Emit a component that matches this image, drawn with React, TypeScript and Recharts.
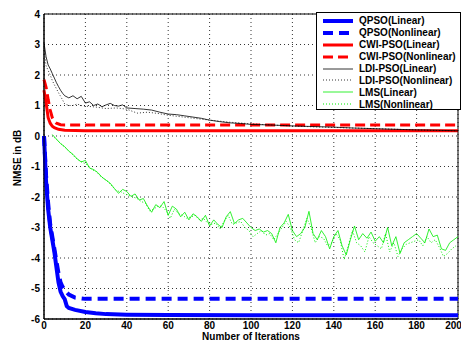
import { LineChart, Line, XAxis, YAxis, CartesianGrid, Legend, ReferenceArea } from 'recharts'

const xTicks = [0, 20, 40, 60, 80, 100, 120, 140, 160, 180, 200]
const yTicks = [-6, -5, -4, -3, -2, -1, 0, 1, 2, 3, 4]

const qpsoLinIter = [0, 1, 2, 3, 4, 5, 6, 7, 8, 9, 10, 11, 12, 15, 20, 25, 30, 40, 60, 100, 200]
const qpsoLinNmse = [0, -1.5, -2.4, -3.0, -3.4, -3.8, -4.3, -4.8, -5.1, -5.25, -5.35, -5.58, -5.64, -5.7, -5.77, -5.81, -5.84, -5.86, -5.87, -5.88, -5.88]

const qpsoNonIter = [0, 1, 2, 3, 4, 5, 6, 7, 8, 9, 10, 12, 15, 20, 200]
const qpsoNonNmse = [0, -1.3, -2.2, -2.9, -3.3, -3.7, -4.1, -4.5, -4.8, -4.95, -5.05, -5.2, -5.3, -5.34, -5.34]

const cwiLinIter = [0, 1, 2, 3, 4, 5, 7, 10, 20, 200]
const cwiLinNmse = [1.5, 1.1, 0.6, 0.42, 0.32, 0.27, 0.22, 0.19, 0.17, 0.17]

const cwiNonIter = [0, 1, 2, 3, 4, 5, 6, 8, 10, 200]
const cwiNonNmse = [1.85, 1.6, 1.2, 0.85, 0.6, 0.48, 0.42, 0.37, 0.36, 0.36]

const ldiLinIter = [0, 1, 2, 3, 4, 5, 6, 7, 8, 9, 10, 12, 14, 16, 18, 20, 22, 24, 26, 28, 30, 32, 34, 36, 38, 40, 44, 48, 52, 56, 60, 64, 68, 72, 76, 80, 85, 90, 95, 100, 110, 120, 130, 140, 150, 160, 170, 180, 190, 200]
const ldiLinNmse = [3.05, 2.6, 2.33, 2.2, 2.05, 1.9, 1.75, 1.62, 1.5, 1.4, 1.32, 1.25, 1.32, 1.22, 1.3, 1.08, 1.12, 1.0, 1.05, 0.96, 1.02, 1.07, 1.0, 0.98, 1.02, 0.92, 0.9, 0.88, 0.85, 0.78, 0.72, 0.7, 0.66, 0.62, 0.58, 0.52, 0.47, 0.43, 0.41, 0.38, 0.36, 0.33, 0.31, 0.29, 0.26, 0.24, 0.22, 0.2, 0.19, 0.17]

const ldiNonIter = [0, 1, 2, 3, 4, 5, 6, 7, 8, 9, 10, 12, 14, 16, 18, 20, 25, 30, 35, 40, 45, 50, 55, 60, 70, 80, 90, 100, 110, 120, 130, 140, 150, 160, 170, 180, 190, 200]
const ldiNonNmse = [2.9, 2.3, 2.15, 2.0, 1.82, 1.68, 1.55, 1.42, 1.3, 1.18, 1.05, 1.0, 1.0, 1.05, 1.0, 0.98, 0.95, 0.9, 0.92, 0.88, 0.75, 0.78, 0.74, 0.68, 0.6, 0.52, 0.45, 0.4, 0.36, 0.33, 0.3, 0.28, 0.26, 0.24, 0.22, 0.2, 0.18, 0.17]

// LMS sampled every 2nd iteration (linear: even from 4, nonlinear: odd from 5)
const lmsLinNmse = [
  0.05, -0.1, -0.25, -0.35, -0.5, -0.6, -0.75, -0.85, -0.8, -1.05,
  -1.1, -1.2, -1.35, -1.45, -1.55, -1.72, -1.88, -1.75, -1.82, -1.98,
  -1.9, -2.1, -2.05, -2.3, -2.5, -2.25, -2.35, -2.15, -2.6, -2.3,
  -2.4, -2.65, -2.5, -2.75, -2.55, -2.65, -2.8, -2.6, -2.95, -2.75,
  -2.9, -3.0, -2.65, -2.48, -2.87, -2.75, -2.7, -2.85, -3.0, -3.1,
  -3.05, -3.15, -3.1, -3.2, -3.5, -3.0, -2.85, -2.57, -3.1, -3.3,
  -3.2, -3.0, -2.47, -3.2, -3.4, -3.1, -3.3, -3.7, -3.3, -3.1,
  -3.6, -3.9, -3.4, -2.95, -3.4, -3.2, -3.35, -3.15, -3.45, -3.3,
  -3.5, -3.0, -3.6, -3.3, -3.85, -3.5, -3.4, -3.3, -3.2, -3.35,
  -3.5, -3.05, -3.3, -3.25, -3.7, -3.75, -3.5, -3.4, -3.3,
]
const lmsNonNmse = [
  -0.05, -0.18, -0.3, -0.42, -0.55, -0.7, -0.8, -0.88, -0.95, -1.1,
  -1.15, -1.3, -1.4, -1.5, -1.65, -1.8, -1.82, -1.9, -1.95, -2.0,
  -2.05, -2.15, -2.2, -2.45, -2.4, -2.3, -2.3, -2.45, -2.7, -2.4,
  -2.55, -2.6, -2.7, -2.65, -2.6, -2.75, -2.7, -2.85, -2.9, -2.85,
  -3.05, -2.8, -2.6, -2.9, -2.85, -2.8, -3.0, -3.1, -3.3, -3.2,
  -3.1, -3.25, -3.2, -3.4, -3.2, -3.0, -2.8, -3.0, -3.4, -3.5,
  -3.1, -2.7, -3.0, -3.5, -3.3, -3.35, -3.6, -3.5, -3.2, -3.4,
  -4.05, -3.6, -3.1, -3.5, -3.6, -3.8, -3.3, -3.5, -3.6, -3.7,
  -3.2, -3.8, -3.5, -3.95, -3.7, -3.55, -3.5, -3.45, -3.4, -3.6,
  -3.3, -3.5, -3.4, -3.65, -3.95, -3.85, -3.7, -3.6,
]
const lmsLinIter = lmsLinNmse.map((_, i) => 4 + i * 2)
const lmsNonIter = lmsNonNmse.map((_, i) => 5 + i * 2)

const zip = (xs: number[], ys: number[]) => xs.map((x, i) => ({ x, y: ys[i] }))

const font = '"Liberation Sans", Arial, sans-serif'

const series = [
  { name: 'QPSO(Linear)', data: zip(qpsoLinIter, qpsoLinNmse), color: '#0000ff', width: 4, dash: undefined },
  { name: 'QPSO(Nonlinear)', data: zip(qpsoNonIter, qpsoNonNmse), color: '#0000ff', width: 4, dash: '10 6' },
  { name: 'CWI-PSO(Linear)', data: zip(cwiLinIter, cwiLinNmse), color: '#ff0000', width: 3, dash: undefined },
  { name: 'CWI-PSO(Nonlinear)', data: zip(cwiNonIter, cwiNonNmse), color: '#ff0000', width: 3, dash: '10 5' },
  { name: 'LDI-PSO(Linear)', data: zip(ldiLinIter, ldiLinNmse), color: '#000000', width: 0.8, dash: undefined },
  { name: 'LDI-PSO(Nonlinear)', data: zip(ldiNonIter, ldiNonNmse), color: '#000000', width: 0.8, dash: '1 2' },
  { name: 'LMS(Linear)', data: zip(lmsLinIter, lmsLinNmse), color: '#00ee00', width: 0.8, dash: undefined },
  { name: 'LMS(Nonlinear)', data: zip(lmsNonIter, lmsNonNmse), color: '#00ee00', width: 1, dash: '1 2' },
]

const LegendBox = () => (
  <div style={{ width: 145, height: 98, border: '1px solid #000', background: '#fff', boxSizing: 'border-box', padding: '2px 0 0 6px', font: `bold 10px ${font}` }}>
    {series.map(s => (
      <div key={s.name} style={{ display: 'flex', alignItems: 'center', height: 11.9, whiteSpace: 'nowrap' }}>
        <svg width={30} height={8}>
          <line x1={0} x2={30} y1={4} y2={4} stroke={s.color} strokeWidth={s.width} strokeDasharray={s.dash} />
        </svg>
        <span style={{ marginLeft: 6 }}>{s.name}</span>
      </div>
    ))}
  </div>
)

const tickStyle = { fontSize: 10, fontWeight: 'bold' as const, fontFamily: font, fill: '#000' }

export default function App() {
  return (
    <div style={{ position: 'absolute', left: 0, top: 0, background: '#fff' }}>
      <LineChart width={461} height={341} margin={{ top: 14, right: 3, bottom: 0, left: 4 }}>
        <CartesianGrid stroke="#000" strokeDasharray="1 3" strokeWidth={0.8} />
        <XAxis
          dataKey="x" type="number" domain={[0, 200]} ticks={xTicks} allowDuplicatedCategory={false}
          height={22} tickSize={0} tickMargin={3} tick={tickStyle} axisLine={{ stroke: '#000' }}
          label={{ value: 'Number of Iterations', position: 'insideBottom', offset: 1, style: { ...tickStyle } }}
        />
        <YAxis
          type="number" domain={[-6, 4]} ticks={yTicks} width={40} tickSize={0} tickMargin={4}
          tick={tickStyle} axisLine={{ stroke: '#000' }}
          label={{
            content: () => (
              <text x={17} y={158} transform="rotate(-90 17 158)" textAnchor="middle" dominantBaseline="central" style={tickStyle}>
                NMSE in dB
              </text>
            ),
          }}
        />
        <ReferenceArea x1={0} x2={200} y1={-6} y2={4} fill="none" stroke="#000" strokeWidth={1} ifOverflow="visible" />
        {series.map(s => (
          <Line
            key={s.name} data={s.data} dataKey="y" name={s.name} type="linear"
            stroke={s.color} strokeWidth={s.width} strokeDasharray={s.dash}
            dot={false} activeDot={false} isAnimationActive={false}
          />
        ))}
        <Legend
          layout="vertical" align="center" verticalAlign="middle" content={LegendBox}
          wrapperStyle={{ position: 'absolute', left: 316, top: 12, width: 145, height: 98 }}
        />
      </LineChart>
    </div>
  )
}
